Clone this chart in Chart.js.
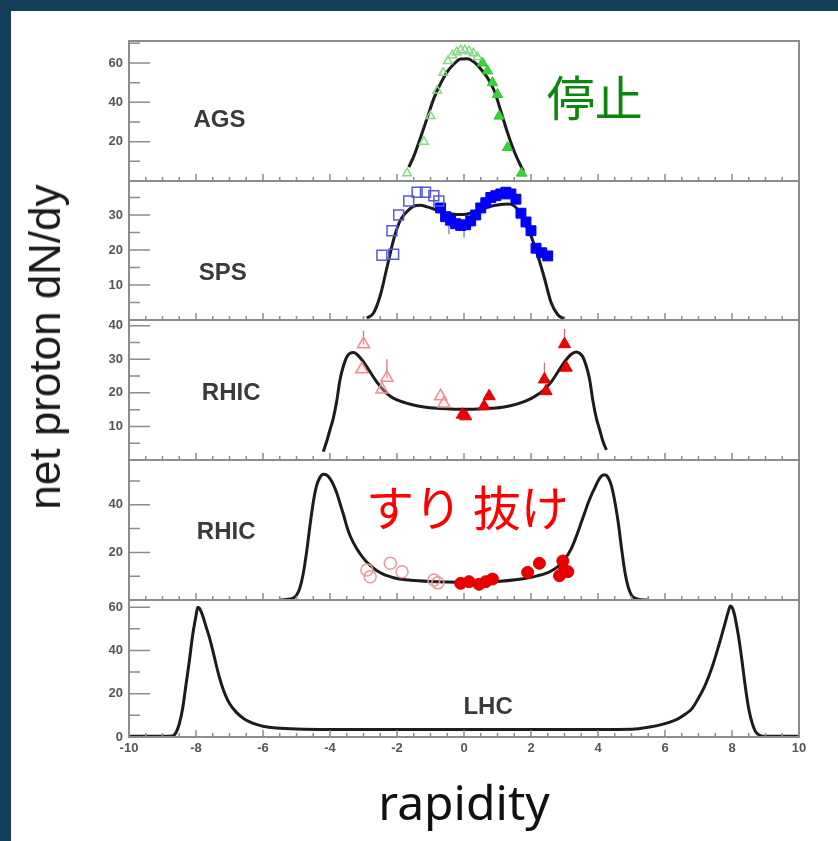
<!DOCTYPE html>
<html>
<head>
<meta charset="utf-8">
<script src="https://cdn.jsdelivr.net/npm/chart.js@4.4.1/dist/chart.umd.min.js"></script>
<style>
  html, body { margin: 0; padding: 0; }
  body { width: 838px; height: 841px; background: #143f59; position: relative; overflow: hidden; }
  #sheet { position: absolute; left: 11px; top: 11px; width: 827px; height: 830px; background: #ffffff; }
  #plot { position: absolute; left: 0; top: 0; }
  #ytitle {
    position: absolute; left: 45px; top: 347px;
    transform: translate(-50%, -50%) rotate(-90deg);
    white-space: nowrap; font: 44px "Liberation Sans", Arial, sans-serif; color: #1a1a1a;
  }
</style>
</head>
<body>
<div id="sheet"></div>
<canvas id="plot" width="838" height="841"></canvas>
<div id="ytitle">net proton dN/dy</div>
<script>
// ---- shared rapidity axis ----
const xTicks = [-10, -8, -6, -4, -2, 0, 2, 4, 6, 8, 10];

// ---- AGS ----
const agsTicks = [0, 20, 40, 60];
const agsFitX = [-1.65, -1.5, -1.3, -1.1, -0.9, -0.7, -0.5, -0.3, -0.1, 0.1, 0.3, 0.5, 0.7, 0.9, 1.1, 1.3, 1.5, 1.7, 1.78];
const agsFitY = [7, 12.5, 22, 32, 42, 49.5, 55.5, 59.5, 62, 62.2, 60.5, 57, 52.5, 46, 35.5, 24.5, 15, 7.5, 5];
const agsOpenX = [-1.7, -1.2, -1.0, -0.8, -0.62, -0.48, -0.35, -0.22, -0.1, 0.02, 0.15, 0.28, 0.4];
const agsOpenY = [4, 20, 33, 46, 55, 61, 64, 65.5, 66.5, 66.5, 66, 65, 63];
const agsFullX = [0.55, 0.7, 0.85, 1.0, 1.05, 1.3, 1.72];
const agsFullY = [60, 56, 50, 44, 33, 17, 4];

// ---- SPS ----
const spsTicks = [10, 20, 30];
const spsFitX = [-2.9, -2.7, -2.5, -2.3, -2.1, -1.9, -1.7, -1.5, -1.3, -1.1, -0.9, -0.7, -0.5, -0.3, -0.1, 0.1, 0.3, 0.5, 0.7, 0.9, 1.1, 1.3, 1.5, 1.7, 1.8, 2.0, 2.2, 2.4, 2.6, 2.8, 3.0];
const spsFitY = [0.5, 2, 7, 15, 23, 28.5, 31, 32.5, 32.8, 32.3, 31.7, 31, 30.5, 30.2, 30.1, 30.3, 30.8, 31.5, 32.2, 32.7, 33, 33.1, 32.6, 30.2, 28, 24, 18.5, 12, 5, 1.5, 0.3];
const spsOpenX = [-2.45, -2.1, -2.15, -1.95, -1.65, -1.4, -1.15, -0.9, -0.75];
const spsOpenY = [18.5, 18.8, 25.5, 30, 34, 36.5, 36.5, 35.5, 34];
const spsFullX = [-0.7, -0.55, -0.4, -0.25, -0.1, 0.05, 0.2, 0.35, 0.5, 0.65, 0.8, 0.95, 1.1, 1.25, 1.4, 1.55, 1.7, 1.85, 2.0, 2.15, 2.32, 2.5];
const spsFullY = [32, 29.5, 28.5, 27.5, 27, 27.2, 28.3, 30, 32, 33.5, 35, 35.5, 36, 36.5, 36, 34.5, 30.5, 28, 25.5, 20.5, 19.2, 18.3];
const spsErrX = [-0.45, 0.0];
const spsErrLo = [24.5, 23.5];
const spsErrHi = [28.5, 27];

// ---- RHIC (62 GeV) ----
const rhic1Ticks = [10, 20, 30, 40];
const rhic1FitX = [-4.2, -4.1, -4.0, -3.9, -3.8, -3.7, -3.6, -3.5, -3.4, -3.3, -3.2, -3.0, -2.8, -2.6, -2.4, -2.2, -2.0, -1.6, -1.2, -0.8, -0.4, 0, 0.4, 0.8, 1.2, 1.6, 2.0, 2.2, 2.4, 2.6, 2.8, 3.0, 3.2, 3.35, 3.45, 3.55, 3.65, 3.75, 3.85, 3.95, 4.05, 4.15, 4.25];
const rhic1FitY = [2.5, 5.5, 9, 12.5, 17.5, 24, 28, 30.7, 31.8, 32, 31.5, 29.2, 26.2, 23.2, 20.8, 19, 17.9, 16.6, 15.8, 15.4, 15.2, 15.1, 15.2, 15.4, 15.8, 16.7, 18.3, 19.5, 21, 23.2, 26.2, 29.2, 31.5, 32.2, 31.8, 30.7, 28, 24, 17.5, 12.5, 9, 5.5, 3];
const rhic1OpenX = [-3.05, -3.0, -2.45, -2.3, -0.7, -0.6];
const rhic1OpenY = [27, 34.5, 21, 24.5, 19, 16.8];
const rhic1FullX = [-0.05, 0.05, 0.6, 0.75, 2.4, 2.45, 3.0, 3.05];
const rhic1FullY = [13.5, 13.0, 16, 19, 24, 20.5, 34.5, 27.5];
const rhic1ErrX = [-3.0, -2.3, 2.4, 3.0];
const rhic1ErrLo = [34.5, 24.5, 24, 34.5];
const rhic1ErrHi = [38.5, 30, 29, 39];

// ---- RHIC (200 GeV) ----
const rhic2Ticks = [20, 40];
const rhic2FitX = [-5.5, -5.3, -5.1, -5.0, -4.9, -4.8, -4.7, -4.6, -4.5, -4.4, -4.3, -4.2, -4.1, -4.0, -3.9, -3.8, -3.7, -3.6, -3.5, -3.4, -3.2, -3.0, -2.8, -2.6, -2.4, -2.2, -2.0, -1.6, -1.0, -0.5, 0, 0.5, 1.0, 1.6, 2.0, 2.2, 2.4, 2.6, 2.8, 3.0, 3.2, 3.4, 3.5, 3.6, 3.7, 3.8, 3.9, 4.0, 4.1, 4.2, 4.3, 4.4, 4.5, 4.6, 4.7, 4.8, 4.9, 5.0, 5.1, 5.3, 5.5];
const rhic2FitY = [0, 0.2, 0.8, 2, 5, 11, 20, 31, 41, 48, 51.5, 52.8, 52.5, 51, 48.5, 45, 40.5, 36, 31, 27, 21.5, 17.5, 14.5, 12.3, 10.8, 9.8, 9, 8.3, 7.8, 7.6, 7.5, 7.6, 7.8, 8.6, 9.5, 10.2, 11, 12.2, 14, 17, 21.5, 28.5, 32.5, 36.5, 40.5, 44, 47, 50, 52, 52.6, 51.5, 48, 41.5, 33, 22, 12, 5.5, 2, 0.8, 0.1, 0];
const rhic2OpenX = [-2.9, -2.8, -2.2, -1.85, -0.9, -0.78];
const rhic2OpenY = [12.6, 9.8, 15.4, 11.9, 8.4, 7.2];
const rhic2FullX = [-0.1, 0.15, 0.45, 0.65, 0.85, 1.9, 2.25, 2.85, 2.95, 3.0, 3.1];
const rhic2FullY = [7.0, 7.7, 6.6, 7.7, 8.8, 11.6, 15.4, 10.2, 16.4, 12.6, 11.9];

// ---- LHC ----
const lhcTicks = [0, 20, 40, 60];
const lhcFitX = [-10, -9.0, -8.7, -8.6, -8.5, -8.4, -8.3, -8.2, -8.1, -8.0, -7.95, -7.9, -7.8, -7.7, -7.6, -7.5, -7.4, -7.3, -7.2, -7.1, -7.0, -6.8, -6.6, -6.4, -6.2, -6.0, -5.6, -5.0, -4.0, 0, 4.0, 5.0, 5.5, 6.0, 6.4, 6.6, 6.8, 7.0, 7.2, 7.4, 7.6, 7.8, 7.9, 7.95, 8.05, 8.2, 8.3, 8.4, 8.5, 8.6, 8.7, 8.8, 8.9, 9.0, 10];
const lhcFitY = [0.3, 0.3, 0.5, 2, 6, 13, 24, 35, 47, 56, 60, 59.5, 56, 51, 46, 40, 33.5, 27.5, 22.5, 18.5, 15.5, 11.5, 8.8, 7, 5.8, 5, 4.2, 3.7, 3.5, 3.5, 3.5, 3.6, 4.5, 6.2, 8.5, 10.5, 13, 18, 24, 32, 42, 53, 58.5, 60.5, 58, 46, 35, 23, 13, 6.5, 2.5, 1, 0.4, 0.3, 0.3];

// ---- panel labels and annotations (placed in data units of each panel) ----
const panelNames = ['AGS', 'SPS', 'RHIC', 'RHIC', 'LHC'];
const panelAxes = ['yAGS', 'ySPS', 'yRHIC1', 'yRHIC2', 'yLHC'];
const panelNameX = [-7.3, -7.2, -6.95, -7.1, 0.72];
const panelNameY = [30.8, 13.4, 19.9, 28.6, 13.7];
const minorSteps = [10, 5, 5, 10, 10];
const majorSteps = [20, 10, 10, 20, 20];

const notes = [
  { text: '停止', axis: 'yAGS', x: 3.9, y: 42.5, color: '#0a870a' },
  { text: 'すり 抜け', axis: 'yRHIC2', x: 0.1, y: 38.7, color: '#ff0000' }
];

const pts = (xs, ys) => xs.map((x, i) => ({ x, y: ys[i] }));
const bars = (xs, lo, hi) => xs.flatMap((x, i) => [{ x, y: lo[i] }, { x, y: hi[i] }, { x, y: null }]);

function fit(axis, xs, ys) {
  return { data: pts(xs, ys), yAxisID: axis, showLine: true, pointRadius: 0, borderColor: '#1c1c1c',
           borderWidth: 3, cubicInterpolationMode: 'monotone', order: 3 };
}
function marks(axis, xs, ys, style, radius, stroke, fill, width) {
  return { data: pts(xs, ys), yAxisID: axis, showLine: false, pointStyle: style, pointRadius: radius,
           borderColor: stroke, backgroundColor: fill, borderWidth: width, order: 1 };
}
function errs(axis, xs, lo, hi, color) {
  return { data: bars(xs, lo, hi), yAxisID: axis, showLine: true, spanGaps: false, pointRadius: 0,
           borderColor: color, borderWidth: 1.2, order: 2 };
}

const tickFont = { family: 'Liberation Sans', size: 13, weight: 'bold' };

function panelAxis(ticks, max, stackWeight, weight, showZero) {
  return {
    type: 'linear', position: 'left', stack: 'panels', stackWeight, weight,
    min: 0, max,
    afterBuildTicks: s => { s.ticks = ticks.map(v => ({ value: v })); },
    ticks: { color: '#555', font: tickFont, padding: 6, autoSkip: false,
             callback: v => (v === 0 && !showZero) ? '' : String(v) },
    grid: { display: false, drawTicks: false },
    border: { display: false },
    afterFit: s => { s.width = 40; s.paddingTop = 0; s.paddingBottom = 0; }
  };
}

const panelFrame = {
  id: 'panelFrame',
  afterDatasetsDraw(chart) {
    const { ctx, chartArea: a, scales } = chart;
    const xs = scales.x;
    ctx.save();
    ctx.strokeStyle = '#8c8c8c';
    ctx.lineWidth = 2;
    ctx.strokeRect(a.left, a.top, a.right - a.left, a.bottom - a.top);
    panelAxes.forEach((id, k) => {
      const s = scales[id];
      ctx.beginPath();
      ctx.moveTo(a.left, s.bottom); ctx.lineTo(a.right, s.bottom);
      ctx.stroke();
      ctx.save();
      ctx.lineWidth = 1.5;
      ctx.beginPath();
      for (let v = minorSteps[k]; v < s.max; v += minorSteps[k]) {
        const py = s.getPixelForValue(v);
        const len = (v % majorSteps[k] === 0) ? 21 : 11;
        ctx.moveTo(a.left, py); ctx.lineTo(a.left + len, py);
      }
      for (let i = 0; i <= 40; i++) {
        const v = -10 + i * 0.5;
        const px = xs.getPixelForValue(v);
        const len = (i % 4 === 0) ? 7 : 4;
        ctx.moveTo(px, s.bottom); ctx.lineTo(px, s.bottom - len);
      }
      ctx.stroke();
      ctx.restore();
      // panel name
      ctx.fillStyle = '#3a3a3a';
      ctx.font = 'bold 24px "Liberation Sans", Arial, sans-serif';
      ctx.textAlign = 'center';
      ctx.textBaseline = 'middle';
      ctx.fillText(panelNames[k], xs.getPixelForValue(panelNameX[k]), s.getPixelForValue(panelNameY[k]));
    });
    notes.forEach(n => {
      ctx.fillStyle = n.color;
      ctx.font = '48px "Noto Sans CJK JP", sans-serif';
      ctx.textAlign = 'center';
      ctx.textBaseline = 'middle';
      ctx.fillText(n.text, xs.getPixelForValue(n.x), scales[n.axis].getPixelForValue(n.y));
    });
    ctx.restore();
  }
};

new Chart(document.getElementById('plot'), {
  type: 'scatter',
  data: {
    datasets: [
      fit('yAGS', agsFitX, agsFitY),
      marks('yAGS', agsOpenX, agsOpenY, 'triangle', 5, '#86d886', 'rgba(255,255,255,0)', 1.5),
      marks('yAGS', agsFullX, agsFullY, 'triangle', 6, '#2fc42f', '#3ad13a', 1),
      fit('ySPS', spsFitX, spsFitY),
      errs('ySPS', spsErrX, spsErrLo, spsErrHi, '#6a6ae0'),
      marks('ySPS', spsOpenX, spsOpenY, 'rect', 7, '#5858d8', 'rgba(255,255,255,0)', 1.5),
      marks('ySPS', spsFullX, spsFullY, 'rect', 7, '#0000f0', '#0000ff', 1),
      fit('yRHIC1', rhic1FitX, rhic1FitY),
      errs('yRHIC1', rhic1ErrX, rhic1ErrLo, rhic1ErrHi, '#d07070'),
      marks('yRHIC1', rhic1OpenX, rhic1OpenY, 'triangle', 7, '#eb8f8f', 'rgba(255,210,210,0.35)', 1.5),
      marks('yRHIC1', rhic1FullX, rhic1FullY, 'triangle', 7, '#e00000', '#ee0000', 1),
      fit('yRHIC2', rhic2FitX, rhic2FitY),
      marks('yRHIC2', rhic2OpenX, rhic2OpenY, 'circle', 6, '#e89a9a', 'rgba(255,255,255,0)', 1.5),
      marks('yRHIC2', rhic2FullX, rhic2FullY, 'circle', 6, '#e00000', '#e80000', 1),
      fit('yLHC', lhcFitX, lhcFitY)
    ]
  },
  options: {
    responsive: false,
    animation: false,
    events: [],
    layout: { padding: { left: 89, right: 39, top: 41, bottom: 0 } },
    plugins: { legend: { display: false }, tooltip: { enabled: false } },
    scales: {
      x: {
        type: 'linear', position: 'bottom', min: -10, max: 10,
        afterBuildTicks: s => { s.ticks = xTicks.map(v => ({ value: v })); },
        ticks: { color: '#555', font: tickFont, padding: 4, autoSkip: false, maxRotation: 0 },
        grid: { display: false, drawTicks: false },
        border: { display: false },
        title: { display: true, text: 'rapidity', color: '#111',
                 font: { family: 'Noto Sans', size: 48 }, padding: { top: 0, bottom: 6 } },
        afterFit: s => { s.height = 104; s.paddingLeft = 0; s.paddingRight = 0; }
      },
      yAGS: panelAxis(agsTicks, 71.2, 140, 5, false),
      ySPS: panelAxis(spsTicks, 39.7, 139, 4, false),
      yRHIC1: panelAxis(rhic1Ticks, 41.7, 140, 3, false),
      yRHIC2: panelAxis(rhic2Ticks, 58.8, 140, 2, false),
      yLHC: panelAxis(lhcTicks, 63.3, 137, 1, true)
    }
  },
  plugins: [panelFrame]
});
</script>
</body>
</html>
